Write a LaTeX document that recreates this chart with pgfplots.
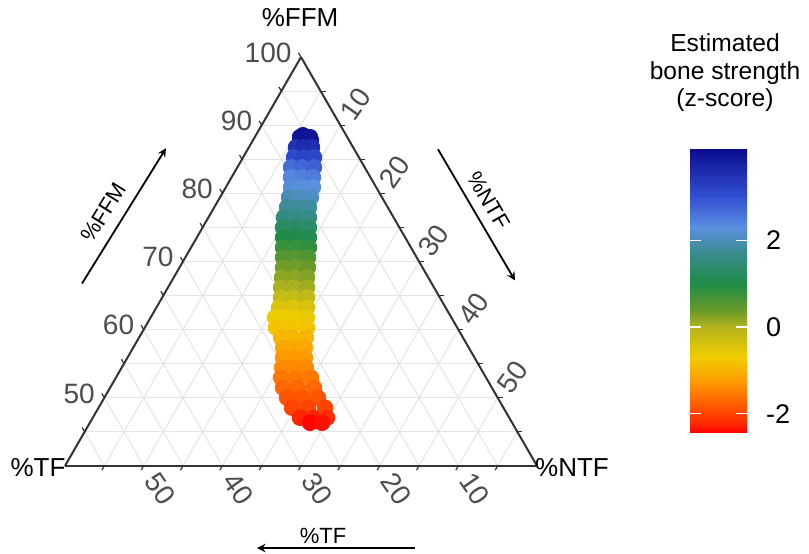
\documentclass[border=0pt]{standalone}
\usepackage{pgfplots}
\pgfplotsset{compat=1.18}
\usepgfplotslibrary{ternary}
\usepackage{pgfplotstable}
\usepackage{fontspec}
\setmainfont{Liberation Sans}

\definecolor{axisgray}{HTML}{333333}
\definecolor{ticktext}{HTML}{4D4D4D}
\definecolor{gridgray}{HTML}{E4E4E4}

% body composition (percent) and estimated bone strength z-score
\pgfplotstableread{
TF NTF FFM z
5.48 5.99 88.53 4.05
4.84 7.37 87.79 3.85
6.01 5.75 88.24 4.00
4.73 7.03 88.24 3.95
7.26 5.98 86.76 3.50
6.24 7.00 86.76 3.60
5.22 8.02 86.76 3.55
8.25 6.46 85.29 3.10
6.98 7.73 85.29 3.20
5.70 9.01 85.29 3.15
9.36 6.82 83.82 2.70
7.96 8.22 83.82 2.75
6.44 9.74 83.82 2.80
10.10 7.55 82.35 2.40
8.70 8.95 82.35 2.45
7.30 10.35 82.35 2.50
10.83 8.29 80.88 2.20
9.43 9.69 80.88 2.25
8.04 11.08 80.88 2.30
11.82 8.77 79.41 2.00
10.42 10.17 79.41 2.05
9.02 11.57 79.41 2.10
12.81 9.25 77.94 1.80
11.41 10.65 77.94 1.80
10.01 12.05 77.94 1.85
13.93 9.60 76.47 1.55
12.40 11.13 76.47 1.60
10.75 12.78 76.47 1.65
14.79 10.21 75.00 1.30
13.14 11.86 75.00 1.30
11.48 13.52 75.00 1.35
15.52 10.95 73.53 1.00
13.87 12.60 73.53 1.05
12.22 14.25 73.53 1.10
16.26 11.68 72.06 0.80
14.61 13.33 72.06 0.80
12.95 14.99 72.06 0.85
16.99 12.42 70.59 0.55
15.47 13.94 70.59 0.55
13.81 15.60 70.59 0.60
17.73 13.15 69.12 0.35
16.20 14.68 69.12 0.35
14.55 16.33 69.12 0.40
18.59 13.76 67.65 0.20
17.06 15.29 67.65 0.20
15.41 16.94 67.65 0.25
19.45 14.37 66.18 0.05
17.80 16.02 66.18 0.05
16.15 17.67 66.18 0.10
20.19 15.10 64.71 -0.20
18.53 16.76 64.71 -0.20
16.88 18.41 64.71 -0.15
21.17 15.59 63.24 -0.45
19.39 17.37 63.24 -0.45
17.61 19.15 63.24 -0.40
22.43 15.81 61.76 -0.65
21.28 16.96 61.76 -0.65
19.89 18.35 61.76 -0.65
18.36 19.88 61.76 -0.60
23.03 16.68 60.29 -0.80
21.13 18.58 60.29 -0.80
19.09 20.62 60.29 -0.80
23.13 18.05 58.82 -0.95
21.61 19.57 58.82 -0.95
19.96 21.22 58.82 -0.95
23.61 19.04 57.35 -1.10
22.22 20.43 57.35 -1.10
20.82 21.83 57.35 -1.10
24.35 19.77 55.88 -1.25
22.95 21.17 55.88 -1.25
21.55 22.57 55.88 -1.25
25.21 20.38 54.41 -1.40
23.69 21.90 54.41 -1.40
22.16 23.43 54.41 -1.40
26.07 20.99 52.94 -1.55
24.17 22.89 52.94 -1.55
22.26 24.80 52.94 -1.55
26.55 21.98 51.47 -1.70
24.65 23.88 51.47 -1.70
22.61 25.92 51.47 -1.70
26.78 23.22 50.00 -1.85
24.87 25.13 50.00 -1.85
22.84 27.16 50.00 -1.85
26.88 24.59 48.53 -2.00
24.84 26.63 48.53 -2.00
22.68 28.79 48.53 -2.00
26.60 26.34 47.06 -2.25
24.94 28.00 47.06 -2.25
23.16 29.78 47.06 -2.20
25.70 27.98 46.32 -2.40
24.17 29.51 46.32 -2.35
}\bodycomp

\pgfplotsset{
  colormap={zscore}{
    rgb255(0cm)=(255,0,0);
    rgb255(0.2cm)=(255,40,0);
    rgb255(1.13cm)=(255,150,0);
    rgb255(1.74cm)=(240,205,0);
    rgb255(2.43cm)=(180,180,30);
    rgb255(2.81cm)=(106,154,42);
    rgb255(3.43cm)=(30,140,70);
    rgb255(4.2cm)=(60,140,150);
    rgb255(4.73cm)=(91,143,224);
    rgb255(5.43cm)=(50,80,210);
    rgb255(6.56cm)=(10,10,140)
  },
}

\begin{document}
\begin{tikzpicture}
% x = %FFM (top corner), y = %TF (lower left), z = %NTF (lower right)
\begin{ternaryaxis}[
  ternary limits relative=false,
  xmin=40, xmax=100, ymin=0, ymax=60, zmin=0, zmax=60,
  width=236pt, height=204pt, scale only axis,
  clip=false,
  xtick={50,60,70,80,90}, xticklabels={50,40,30,20,10},
  ytick={0,10,20,30,40,50}, yticklabels={100,90,80,70,60,50},
  ztick={10,20,30,40,50}, zticklabels={50,40,30,20,10},
  minor xtick={45,55,...,95}, minor ytick={5,15,...,55}, minor ztick={5,15,...,55},
  grid=both,
  major grid style={gridgray, line width=0.5pt},
  minor grid style={gridgray, line width=0.5pt},
  axis line style={axisgray, line width=1pt},
  tick align=outside,
  major tick length=2.5pt, minor tick length=2.5pt,
  tick style={axisgray, line width=0.6pt},
  tick label style={font=\fontsize{14}{14}\selectfont, text=ticktext},
  yticklabel style={anchor=east},
  xticklabel style={anchor=center, xshift=5pt, yshift=10.5pt, rotate=55},
  zticklabel style={anchor=center, xshift=9.5pt, yshift=-9.5pt, rotate=-55},
  colormap name=zscore,
  point meta min=-2.43, point meta max=4.13,
]
\addplot3[scatter, only marks, mark=*, mark size=3.9pt,
  scatter/use mapped color={draw=mapped color, fill=mapped color},
  point meta=explicit]
  table[x=FFM, y=TF, z=NTF, meta=z] {\bodycomp};

% corner labels
\node[font=\fontsize{13}{13}\selectfont] at (axis cs:105.74,-2.75,-2.99) {\%FFM};
\node[font=\fontsize{13}{13}\selectfont] at (axis cs:39.71,63.57,-3.28) {\%TF};
\node[font=\fontsize{13}{13}\selectfont] at (axis cs:39.71,-4.31,64.60) {\%NTF};
% direction arrows
\draw[-stealth, line width=0.9pt] (axis cs:66.76,44.46,-11.22) -- (axis cs:86.62,23.85,-10.47);
\node[rotate=58, font=\fontsize{11}{11}\selectfont] at (axis cs:77.21,36.50,-13.71) {\%FFM};
\draw[-stealth, line width=0.9pt] (axis cs:86.47,-10.65,24.18) -- (axis cs:67.21,-10.81,43.60);
\node[rotate=-60, font=\fontsize{11}{11}\selectfont] at (axis cs:78.97,-13.38,34.41) {\%NTF};
\draw[-stealth, line width=0.9pt] (axis cs:27.94,21.54,50.52) -- (axis cs:27.94,41.62,30.44);
\node[font=\fontsize{11}{11}\selectfont] at (axis cs:29.71,32.35,37.94) {\%TF};
% colour bar anchor and picture frame
\coordinate (cbtl) at (axis cs:86.62,-42.76,56.14);
\coordinate (frameTL) at (axis cs:108.38,34.07,-42.45);
\coordinate (frameBR) at (axis cs:27.21,-28.18,100.97);
\end{ternaryaxis}

\begin{axis}[
  at={(cbtl)}, anchor=north west,
  hide axis, scale only axis, width=28.5pt, height=142pt,
  xmin=0, xmax=1, ymin=0, ymax=1,
  colormap name=zscore,
  point meta min=-2.43, point meta max=4.13,
  colorbar,
  colorbar shift/.style={},
  colorbar/width=28.5pt,
  colorbar style={
    at={(parent axis.north west)}, anchor=north west,
    height=142pt,
    ytick={-2,0,2},
    yticklabel pos=right,
    ytick align=inside,
    major tick length=5.5pt,
    ytick style={white, line width=0.8pt},
    ytick pos=both,
    axis line style={draw=none},
    /pgf/number format/assume math mode=true,
    yticklabel style={font=\fontsize{13.5}{13.5}\selectfont, text=black, xshift=6pt},
    title={Estimated\\bone strength\\(z-score)},
    title style={at={(0.5,1)}, anchor=south, inner sep=0pt, align=center,
      font=\fontsize{12.3}{13.8}\selectfont, xshift=3.25pt, yshift=12pt},
  },
]
\addplot[draw=none] coordinates {(0,0)};
\end{axis}
\pgfresetboundingbox
\useasboundingbox (frameTL) rectangle (frameBR);
\end{tikzpicture}
\end{document}
